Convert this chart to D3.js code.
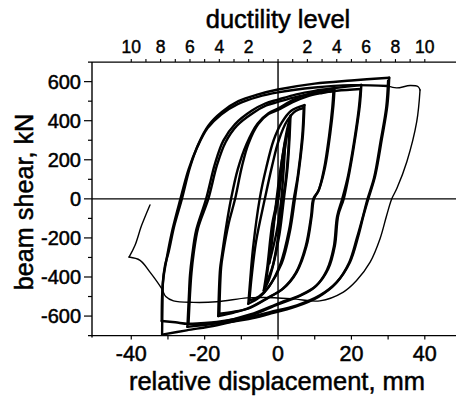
<!DOCTYPE html>
<html><head><meta charset="utf-8">
<script src="https://cdn.jsdelivr.net/npm/d3@7"></script>
<style>html,body{margin:0;padding:0;background:#fff;} svg{display:block;} text{fill:#000;stroke:#000;paint-order:stroke;}</style>
</head><body>
<svg id="c" width="456" height="398"></svg>
<script>
// ---- axis data ----
const xDomain = [-50.7, 50];
const yDomain = [-700, 700];
const xTicks = [-40, -30, -20, -10, 0, 10, 20, 30, 40];
const xLabels = [-40, -20, 0, 20, 40];
const yTicks = [-600, -500, -400, -300, -200, -100, 0, 100, 200, 300, 400, 500, 600];
const yLabels = [-600, -400, -200, 0, 200, 400, 600];
const ductilityTicks = [-10, -9, -8, -7, -6, -5, -4, -3, -2, -1, 0, 1, 2, 3, 4, 5, 6, 7, 8, 9, 10];
const ductilityLabels = [-10, -8, -6, -4, -2, 2, 4, 6, 8, 10];
const mmPerDuctility = 4;

// ---- hysteresis loops [displacement mm, shear kN] ----
const loopMu1a = [[-3.9,-470],[-3.0,-360],[-1.6,-130],[-0.2,0],[1.1,200],[2.3,340],[3.4,425],[3.1,300],[2.6,160],[1.6,0],[0.4,-180],[-1.2,-330],[-2.6,-420],[-3.9,-470]];
const loopMu1b = [[-3.4,-440],[-2.5,-320],[-1.2,-120],[0.1,0],[1.3,180],[2.4,320],[3.2,400],[2.8,250],[2.0,80],[1.3,0],[0.2,-170],[-1.4,-340],[-3.4,-440]];
const loopMu1c = [[-2.4,-330],[-1.4,-180],[-0.4,0],[0.9,180],[2.0,300],[1.5,140],[0.9,0],[-0.3,-160],[-2.4,-330]];
const loopMu2a = [[-8.1,-537],[-7.6,-420],[-6.8,-250],[-5.0,0],[-3.2,160],[-1.2,300],[1.0,390],[3.5,450],[7.2,480],[6.8,330],[5.8,160],[4.6,0],[3.2,-170],[1.0,-330],[-2.5,-450],[-5.2,-505],[-8.1,-537]];
const loopMu2b = [[-7.8,-520],[-7.2,-400],[-6.0,-220],[-3.6,0],[-1.6,170],[0.2,300],[2.5,400],[4.8,450],[7.0,465],[6.6,320],[5.4,120],[4.3,0],[3.0,-160],[0.7,-330],[-2.5,-450],[-5.2,-500],[-7.8,-520]];
const loopMu4a = [[-16.3,-600],[-15.8,-360],[-15.3,-290],[-14.2,-150],[-12.8,0],[-11.0,150],[-8.6,280],[-5.6,385],[-2.6,438],[0,462],[4,505],[8,535],[12,552],[15.4,566],[15.1,480],[14.2,330],[12.8,160],[11.2,50],[9.8,0],[9.2,-85],[7.8,-239],[5.1,-375],[1.4,-460],[-2.2,-500],[-7.6,-555],[-12,-582],[-16.3,-600]];
const loopMu4b = [[-16.0,-588],[-15.5,-350],[-14.9,-270],[-13.5,-130],[-11.7,0],[-9.9,161],[-8.1,281],[-5.4,383],[-2.6,434],[0,455],[4,495],[8,525],[12,542],[15.1,552],[14.8,470],[13.9,320],[12.5,150],[11.0,40],[9.6,0],[9.0,-90],[7.5,-245],[4.8,-380],[1.0,-465],[-2.5,-505],[-7.8,-560],[-12,-578],[-16.0,-588]];
const loopMu6a = [[-24.7,-655],[-24.3,-500],[-24.0,-392],[-23.4,-290],[-22.3,-160],[-19.6,0],[-17.2,179],[-14.9,298],[-11.7,383],[-7.2,451],[-3.5,488],[0,508],[5,535],[10,553],[16,568],[22.7,583],[22.3,480],[21.0,307],[19.5,140],[17.9,0],[16.4,-85],[15.5,-239],[13.7,-358],[10.5,-443],[6.0,-494],[0.5,-532],[-7.6,-592],[-16.7,-636],[-24.7,-655]];
const loopMu6b = [[-24.4,-640],[-24.0,-490],[-23.6,-380],[-23.0,-280],[-21.8,-150],[-19.0,0],[-16.6,175],[-14.3,290],[-11.2,375],[-6.8,440],[-3.2,478],[0,496],[5,522],[10,540],[16,553],[22.5,562],[22.0,460],[20.7,290],[19.1,120],[17.5,0],[16.1,-90],[15.2,-245],[13.3,-365],[10.1,-450],[5.6,-500],[0,-540],[-7.6,-598],[-16.7,-630],[-24.4,-640]];
const loopMu8a = [[-31.6,-695],[-31.5,-545],[-31.4,-430],[-30.8,-341],[-29.8,-270],[-28.3,-140],[-26.2,0],[-24.0,161],[-21.7,281],[-19.0,375],[-15.3,445],[-10.8,500],[-5.4,535],[0,560],[10,590],[20,606],[30.3,620],[29.8,480],[28.3,307],[26.5,120],[24.6,0],[23.3,-85],[21.9,-188],[19.6,-324],[16.0,-426],[11.4,-494],[5.1,-545],[-2.2,-580],[-7.6,-605],[-16.7,-647],[-24.9,-673],[-31.6,-695]];
const loopMu8b = [[30.0,605],[29.5,470],[28.0,300],[26.2,110],[24.4,0],[23.0,-100],[21.5,-200],[19.3,-330],[15.8,-432],[11.0,-502],[4.8,-552],[-2.5,-590],[-8.0,-615],[-16.7,-637],[-24.4,-640],[-28.0,-632],[-31.7,-625],[-31.6,-500],[-31.2,-400],[-30.3,-300],[-28.8,-160],[-26.6,0],[-24.4,150],[-22.0,265],[-19.2,362],[-15.5,432],[-11.0,485],[-5.5,522],[0,545],[10,570],[20,582],[29.9,578]];
const finalExcursion = [[29.9,578],[32.3,568],[36.0,580],[38.2,574],[38.7,557],[37.8,395],[35.1,190],[32.4,54],[31.0,0],[29.6,-85],[27.8,-204],[25.1,-324],[21.4,-418],[17.8,-477],[11.4,-522],[4,-512],[-4,-505],[-8.5,-507],[-16.7,-527],[-23.1,-530],[-28.5,-522],[-30.6,-500],[-31.7,-460],[-34.9,-375],[-37.6,-315],[-40.6,-298],[-39.0,-239],[-37.2,-137],[-34.9,-31]];

const heavyLoops = [loopMu1a, loopMu1b, loopMu1c, loopMu2a, loopMu2b, loopMu4a, loopMu4b, loopMu6a, loopMu6b, loopMu8a, loopMu8b];

// ---- drawing ----
const svg = d3.select('#c');
const font = '"Liberation Sans", Arial, Helvetica, sans-serif';
const x = d3.scaleLinear().domain(xDomain).range([92, 461.5]);
const y = d3.scaleLinear().domain(yDomain).range([335.6, 62.1]);
const xd = d3.scaleLinear().domain(xDomain.map(v => v / mmPerDuctility)).range(x.range());
const plotLeft = x(xDomain[0]), plotTop = y(yDomain[1]), plotBottom = y(yDomain[0]);

const line = d3.line().x(d => x(d[0])).y(d => y(d[1])).curve(d3.curveCatmullRom.alpha(0.5));

// split a loop into branches at its displacement extremes, so tips stay sharp
function branches(pts) {
  const xs = pts.map(p => p[0]);
  const iMax = xs.indexOf(d3.max(xs)), iMin = xs.indexOf(d3.min(xs));
  const cuts = Array.from(new Set([0, iMax, iMin, pts.length - 1])).sort((a, b) => a - b);
  const segs = [];
  for (let k = 0; k < cuts.length - 1; k++) segs.push(pts.slice(cuts[k], cuts[k + 1] + 1));
  return segs.filter(s => s.length > 1);
}

// frame lines
svg.append('line').attr('x1', 88).attr('x2', 456).attr('y1', plotTop).attr('y2', plotTop).attr('stroke', '#000').attr('stroke-width', 1.4);
svg.append('line').attr('x1', 88).attr('x2', 456).attr('y1', plotBottom).attr('y2', plotBottom).attr('stroke', '#000').attr('stroke-width', 1.4);
svg.append('line').attr('x1', plotLeft).attr('x2', plotLeft).attr('y1', plotTop).attr('y2', plotBottom + 2).attr('stroke', '#000').attr('stroke-width', 1.4);
// zero lines
svg.append('line').attr('x1', plotLeft).attr('x2', 456).attr('y1', y(0)).attr('y2', y(0)).attr('stroke', '#000').attr('stroke-width', 1.4);
svg.append('line').attr('x1', x(0)).attr('x2', x(0)).attr('y1', plotTop).attr('y2', plotBottom).attr('stroke', '#000').attr('stroke-width', 1.4);

// bottom ticks
svg.selectAll('.xt').data(xTicks).enter().append('line')
  .attr('x1', d => x(d)).attr('x2', d => x(d)).attr('y1', plotBottom).attr('y2', plotBottom + 4)
  .attr('stroke', '#000').attr('stroke-width', 1.2);
svg.selectAll('.xl').data(xLabels).enter().append('text')
  .attr('x', d => x(d)).attr('y', 361).attr('text-anchor', 'middle').attr('stroke-width', 0.5)
  .attr('font-family', font).attr('font-size', 21.5).text(d => d);
// left ticks
svg.selectAll('.yt').data(yTicks).enter().append('line')
  .attr('x1', d => plotLeft - (yLabels.includes(d) ? 8 : 4)).attr('x2', plotLeft).attr('y1', d => y(d)).attr('y2', d => y(d))
  .attr('stroke', '#000').attr('stroke-width', 1.2);
svg.selectAll('.yl').data(yLabels).enter().append('text')
  .attr('x', 81).attr('y', d => y(d) + 7).attr('text-anchor', 'end').attr('stroke-width', 0.5)
  .attr('font-family', font).attr('font-size', 20).text(d => d);
// top ductility ticks
svg.selectAll('.dt').data(ductilityTicks).enter().append('line')
  .attr('x1', d => xd(d)).attr('x2', d => xd(d)).attr('y1', plotTop).attr('y2', plotTop - 3)
  .attr('stroke', '#000').attr('stroke-width', 1.1);
svg.selectAll('.dl').data(ductilityLabels).enter().append('text')
  .attr('x', d => xd(d)).attr('y', 53).attr('text-anchor', 'middle').attr('stroke-width', 0.45)
  .attr('font-family', font).attr('font-size', 17.5).text(d => Math.abs(d));

// titles
svg.append('text').attr('x', 278).attr('y', 28).attr('text-anchor', 'middle').attr('stroke-width', 0.5)
  .attr('font-family', font).attr('font-size', 25.5).text('ductility level');
svg.append('text').attr('x', 277).attr('y', 390).attr('text-anchor', 'middle').attr('stroke-width', 0.5)
  .attr('font-family', font).attr('font-size', 25.5).text('relative displacement, mm');
svg.append('text').attr('transform', 'translate(33,202) rotate(-90)').attr('text-anchor', 'middle').attr('stroke-width', 0.5)
  .attr('font-family', font).attr('font-size', 25.2).text('beam shear, kN');

// loops
heavyLoops.forEach(loop => {
  svg.append('g').selectAll('path').data(branches(loop)).enter().append('path')
    .attr('d', line).attr('fill', 'none').attr('stroke', '#000').attr('stroke-width', 2.4)
    .attr('stroke-linejoin', 'round').attr('stroke-linecap', 'round');
});
svg.append('g').selectAll('path').data(branches(finalExcursion)).enter().append('path')
  .attr('d', line).attr('fill', 'none').attr('stroke', '#000').attr('stroke-width', 1.4)
  .attr('stroke-linejoin', 'round').attr('stroke-linecap', 'round');
</script>
</body></html>
